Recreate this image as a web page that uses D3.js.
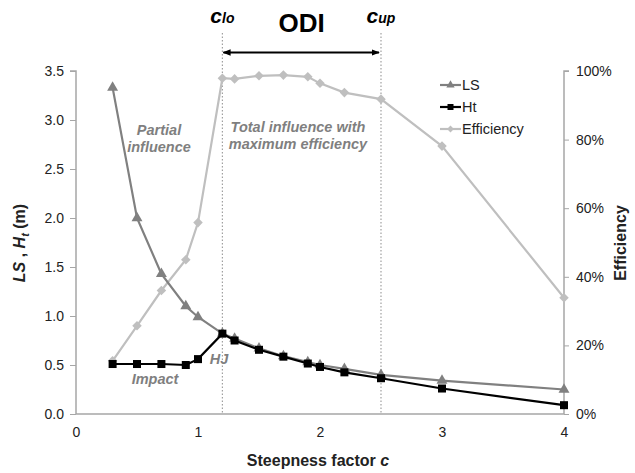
<!DOCTYPE html>
<html>
<head>
<meta charset="utf-8">
<script src="https://cdn.jsdelivr.net/npm/d3@7/dist/d3.min.js"></script>
<style>
  body { margin: 0; background: #fff; }
  svg { display: block; font-family: Arial, "Liberation Sans", sans-serif; }
</style>
</head>
<body>
<svg id="chart" width="635" height="473"></svg>
<script>
// Steepness factor c
const cValues = [0.3, 0.5, 0.7, 0.9, 1.0, 1.2, 1.3, 1.5, 1.7, 1.9, 2.0, 2.2, 2.5, 3, 4];
// LS (m)
const lsValues = [3.33, 2.00, 1.43, 1.10, 0.99, 0.82, 0.77, 0.67, 0.59, 0.53, 0.50, 0.46, 0.40, 0.34, 0.25];
// Ht (m)
const htValues = [0.51, 0.51, 0.51, 0.50, 0.56, 0.82, 0.75, 0.655, 0.585, 0.515, 0.48, 0.425, 0.365, 0.26, 0.09];
// Efficiency (fraction)
const effValues = [0.155, 0.257, 0.36, 0.45, 0.558, 0.979, 0.977, 0.986, 0.988, 0.983, 0.964, 0.937, 0.918, 0.781, 0.339];

const xTicks = [0, 1, 2, 3, 4];
const yLeftTicks = [0, 0.5, 1.0, 1.5, 2.0, 2.5, 3.0, 3.5];
const yRightTicks = [0, 0.2, 0.4, 0.6, 0.8, 1.0];
const cLo = 1.2, cUp = 2.5;

const svg = d3.select("#chart");
const m = { left: 76, right: 564, top: 71, bottom: 414 };

const x = d3.scaleLinear().domain([0, 4]).range([m.left, m.right]);
const yL = d3.scaleLinear().domain([0, 3.5]).range([m.bottom, m.top]);
const yR = d3.scaleLinear().domain([0, 1]).range([m.bottom, m.top]);

const axisColor = "#a6a6a6";
const textColor = "#222";

// Left axis
const gL = svg.append("g").attr("transform", `translate(${m.left},0)`)
  .call(d3.axisLeft(yL).tickValues(yLeftTicks).tickFormat(d3.format(".1f")).tickSize(6).tickPadding(6));
// Right axis
const gR = svg.append("g").attr("transform", `translate(${m.right},0)`)
  .call(d3.axisRight(yR).tickValues(yRightTicks).tickFormat(d3.format(".0%")).tickSize(5).tickPadding(7));
// Bottom axis
const gB = svg.append("g").attr("transform", `translate(0,${m.bottom})`)
  .call(d3.axisBottom(x).tickValues(xTicks).tickFormat(d3.format("d")).tickSize(0).tickPadding(13));

[gL, gR, gB].forEach(g => {
  g.select(".domain").attr("stroke", axisColor).attr("stroke-width", 1.5);
  g.selectAll(".tick line").attr("stroke", axisColor).attr("stroke-width", 1);
  g.selectAll(".tick text").attr("fill", textColor).attr("font-size", 14)
    .attr("font-family", "Arial, 'Liberation Sans', sans-serif");
});
gL.select(".domain").attr("d", `M-6,${m.top}H0V${m.bottom}`);
gR.select(".domain").attr("d", `M5,${m.top}H0V${m.bottom}`);
gB.select(".domain").attr("d", `M${m.left},0H${m.right}`);

// Dotted bounds of the ODI range
[cLo, cUp].forEach(c => {
  svg.append("line")
    .attr("x1", x(c)).attr("x2", x(c))
    .attr("y1", 33).attr("y2", m.bottom)
    .attr("stroke", "#a0a0a0").attr("stroke-width", 1.2)
    .attr("stroke-dasharray", "1.5,2");
});

// Double-headed arrow between c_lo and c_up
const defs = svg.append("defs");
defs.append("marker").attr("id", "arrowEnd").attr("viewBox", "0 0 10 10")
  .attr("refX", 9).attr("refY", 5).attr("markerWidth", 8).attr("markerHeight", 8)
  .attr("markerUnits", "userSpaceOnUse").attr("orient", "auto")
  .append("path").attr("d", "M0,1L10,5L0,9Z").attr("fill", "#000");
defs.append("marker").attr("id", "arrowStart").attr("viewBox", "0 0 10 10")
  .attr("refX", 1).attr("refY", 5).attr("markerWidth", 8).attr("markerHeight", 8)
  .attr("markerUnits", "userSpaceOnUse").attr("orient", "auto")
  .append("path").attr("d", "M10,1L0,5L10,9Z").attr("fill", "#000");
svg.append("line")
  .attr("x1", x(cLo) + 1).attr("x2", x(cUp) - 2)
  .attr("y1", 52.5).attr("y2", 52.5)
  .attr("stroke", "#000").attr("stroke-width", 1.8)
  .attr("marker-start", "url(#arrowStart)").attr("marker-end", "url(#arrowEnd)");

// Header labels
svg.append("text").attr("x", (x(cLo) + x(cUp)) / 2).attr("y", 32)
  .attr("text-anchor", "middle").attr("font-size", 26).attr("font-weight", "bold")
  .attr("fill", "#000").text("ODI");
function cLabel(cx, sub) {
  const t = svg.append("text").attr("x", cx).attr("y", 23).attr("text-anchor", "middle")
    .attr("font-weight", "bold").attr("font-style", "italic").attr("fill", "#000");
  t.append("tspan").attr("font-size", 21).text("c");
  t.append("tspan").attr("font-size", 14).text(sub);
}
cLabel(x(cLo), "lo");
cLabel(x(cUp), "up");

// Series data
const data = cValues.map((c, i) => ({ c, ls: lsValues[i], ht: htValues[i], eff: effValues[i] }));

// Efficiency (right axis)
const effColor = "#bfbfbf";
svg.append("path").datum(data)
  .attr("fill", "none").attr("stroke", effColor).attr("stroke-width", 2.2)
  .attr("d", d3.line().x(d => x(d.c)).y(d => yR(d.eff)));
svg.selectAll(".eff").data(data).join("path").attr("class", "eff")
  .attr("transform", d => `translate(${x(d.c)},${yR(d.eff)})`)
  .attr("d", d3.symbol(d3.symbolDiamond2, 58)())
  .attr("fill", effColor);

// LS
const lsColor = "#808080";
svg.append("path").datum(data)
  .attr("fill", "none").attr("stroke", lsColor).attr("stroke-width", 2.2)
  .attr("d", d3.line().x(d => x(d.c)).y(d => yL(d.ls)));
svg.selectAll(".ls").data(data).join("path").attr("class", "ls")
  .attr("transform", d => `translate(${x(d.c)},${yL(d.ls)})`)
  .attr("d", d3.symbol(d3.symbolTriangle, 52)())
  .attr("fill", lsColor);

// Ht
const htColor = "#000";
svg.append("path").datum(data)
  .attr("fill", "none").attr("stroke", htColor).attr("stroke-width", 2.2)
  .attr("d", d3.line().x(d => x(d.c)).y(d => yL(d.ht)));
svg.selectAll(".ht").data(data).join("rect").attr("class", "ht")
  .attr("x", d => x(d.c) - 4).attr("y", d => yL(d.ht) - 4)
  .attr("width", 8).attr("height", 8).attr("fill", htColor);

// Legend
const legend = [
  { name: "LS", color: lsColor, sym: "tri" },
  { name: "Ht", color: htColor, sym: "sq" },
  { name: "Efficiency", color: effColor, sym: "dia" }
];
legend.forEach((l, i) => {
  const ly = 85 + i * 22;
  const g = svg.append("g");
  g.append("line").attr("x1", 440).attr("x2", 461).attr("y1", ly).attr("y2", ly)
    .attr("stroke", l.color).attr("stroke-width", 2.2);
  let sym;
  if (l.sym === "tri") sym = d3.symbol(d3.symbolTriangle, 30)();
  else if (l.sym === "sq") sym = d3.symbol(d3.symbolSquare, 36)();
  else sym = d3.symbol(d3.symbolDiamond2, 30)();
  g.append("path").attr("d", sym).attr("transform", `translate(450.5,${ly})`).attr("fill", l.color);
  g.append("text").attr("x", 462).attr("y", ly + 5).attr("font-size", 14.5)
    .attr("fill", textColor).text(l.name);
});

// Region annotations
const annColor = "#7f7f7f";
function ann(lines, cx, cy, gap) {
  lines.forEach((s, i) => {
    svg.append("text").attr("x", cx).attr("y", cy + i * gap).attr("text-anchor", "middle")
      .attr("font-size", 14.5).attr("font-weight", "bold").attr("font-style", "italic")
      .attr("fill", annColor).text(s);
  });
}
ann(["Partial", "influence"], 159, 135, 17);
ann(["Total influence with", "maximum efficiency"], 298, 131.5, 17);
ann(["Impact"], 155, 384, 0);
ann(["HJ"], 219, 364, 0);

// Axis titles
svg.append("text").attr("x", 318).attr("y", 466).attr("text-anchor", "middle")
  .attr("font-size", 16).attr("font-weight", "bold").attr("fill", textColor)
  .call(t => {
    t.append("tspan").text("Steepness factor ");
    t.append("tspan").attr("font-style", "italic").text("c");
  });
const lt = svg.append("text").attr("transform", "translate(25,243) rotate(-90)")
  .attr("text-anchor", "middle").attr("font-size", 16).attr("font-weight", "bold").attr("fill", textColor);
lt.append("tspan").attr("font-style", "italic").text("LS");
lt.append("tspan").text(" , ");
lt.append("tspan").attr("font-style", "italic").text("H");
lt.append("tspan").attr("font-style", "italic").attr("font-size", 11).attr("dy", 4).text("t");
lt.append("tspan").attr("dy", -4).text(" (m)");
svg.append("text").attr("transform", "translate(626,243) rotate(-90)")
  .attr("text-anchor", "middle").attr("font-size", 16).attr("font-weight", "bold").attr("fill", textColor)
  .text("Efficiency");
</script>
</body>
</html>
